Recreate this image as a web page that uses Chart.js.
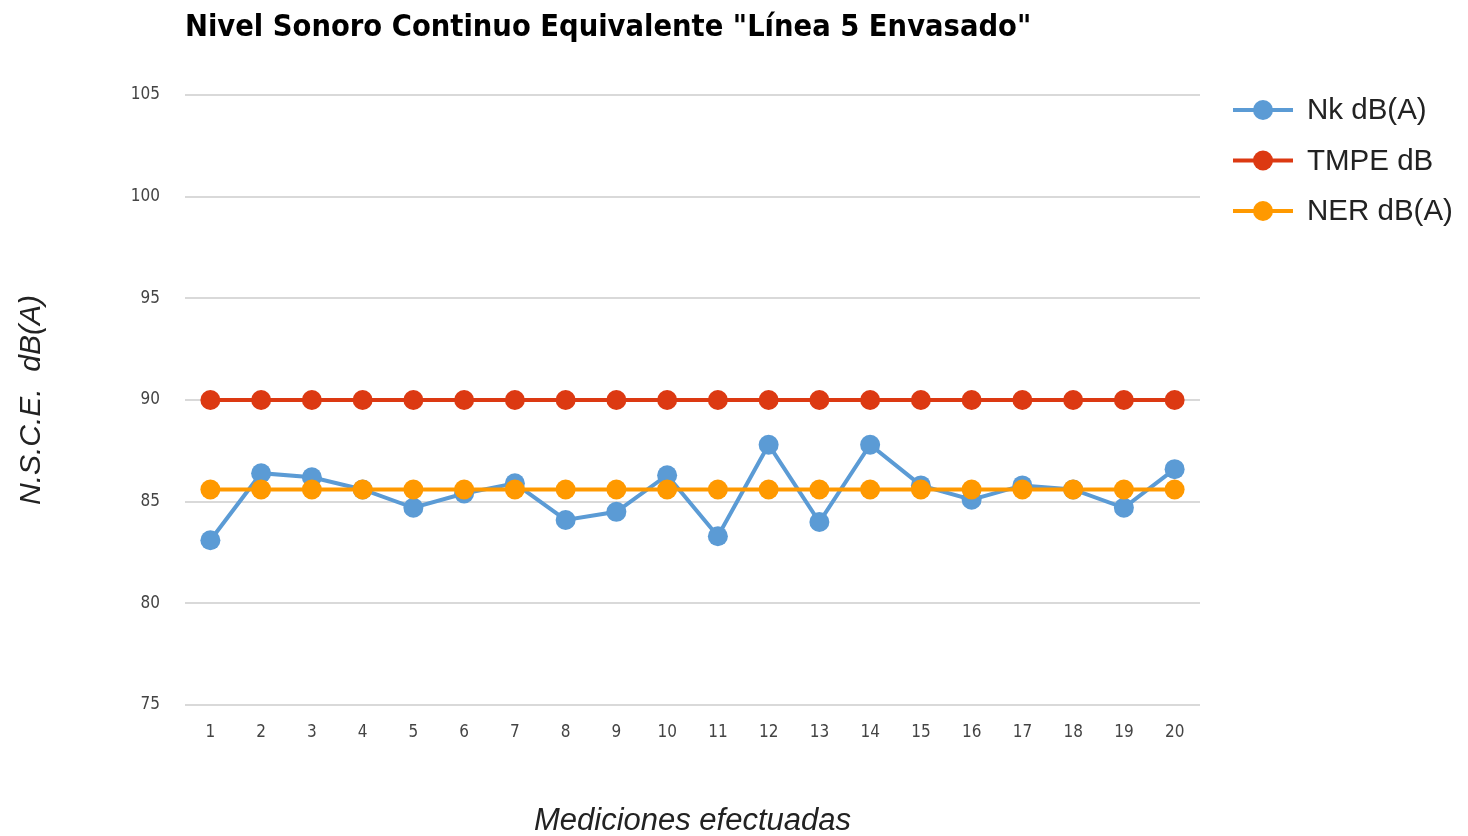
<!DOCTYPE html>
<html>
<head>
<meta charset="utf-8">
<script src="https://cdn.jsdelivr.net/npm/chart.js@4.4.1/dist/chart.umd.min.js"></script>
<style>
  html, body { margin: 0; padding: 0; background: #fff; }
</style>
</head>
<body>
<canvas id="myChart" width="1468" height="836"></canvas>
<script>
const chartTitle = 'Nivel Sonoro Continuo Equivalente "Línea 5 Envasado"';
const mediciones = ['1', '2', '3', '4', '5', '6', '7', '8', '9', '10',
                    '11', '12', '13', '14', '15', '16', '17', '18', '19', '20'];
const nk   = [83.1, 86.4, 86.2, 85.6, 84.7, 85.4, 85.9, 84.1, 84.5, 86.3,
              83.3, 87.8, 84.0, 87.8, 85.8, 85.1, 85.8, 85.6, 84.7, 86.6];
const tmpe = [90, 90, 90, 90, 90, 90, 90, 90, 90, 90,
              90, 90, 90, 90, 90, 90, 90, 90, 90, 90];
const ner  = [85.6, 85.6, 85.6, 85.6, 85.6, 85.6, 85.6, 85.6, 85.6, 85.6,
              85.6, 85.6, 85.6, 85.6, 85.6, 85.6, 85.6, 85.6, 85.6, 85.6];
const yTicks = [75, 80, 85, 90, 95, 100, 105];

const narrow = "'Liberation Sans Narrow', 'DejaVu Sans Condensed', sans-serif";
const regular = "'Liberation Sans', Arial, sans-serif";

// title + right-hand legend, drawn by hand
const extras = {
    id: 'extras',
    afterDraw(chart) {
        const ctx = chart.ctx;
        ctx.save();
        ctx.fillStyle = '#000';
        ctx.font = "bold 30.5px " + narrow;
        ctx.textBaseline = 'middle';
        ctx.textAlign = 'left';
        ctx.fillText(chartTitle, chart.chartArea.left, 28);

        ctx.font = "29.5px " + regular;
        chart.data.datasets.forEach((ds, i) => {
            const y = 110 + i * 50.5;
            ctx.strokeStyle = ds.borderColor;
            ctx.lineWidth = 4;
            ctx.beginPath();
            ctx.moveTo(1233, y);
            ctx.lineTo(1293, y);
            ctx.stroke();
            ctx.fillStyle = ds.backgroundColor;
            ctx.beginPath();
            ctx.arc(1263, y, 10, 0, Math.PI * 2);
            ctx.fill();
            ctx.fillStyle = '#222';
            ctx.fillText(ds.label, 1307, y + 1);
        });
        ctx.restore();
    }
};

const ctx = document.getElementById('myChart').getContext('2d');
const myChart = new Chart(ctx, {
    type: 'line',
    data: {
        labels: mediciones,
        datasets: [{
            label: 'Nk dB(A)',
            data: nk,
            borderColor: '#5b9bd5',
            backgroundColor: '#5b9bd5',
            order: 2
        }, {
            label: 'TMPE dB',
            data: tmpe,
            borderColor: '#dc3912',
            backgroundColor: '#dc3912',
            order: 1
        }, {
            label: 'NER dB(A)',
            data: ner,
            borderColor: '#ff9900',
            backgroundColor: '#ff9900',
            order: 0
        }]
    },
    options: {
        responsive: false,
        animation: false,
        events: [],
        layout: { padding: { top: 95, right: 268, bottom: 0, left: 0 } },
        elements: {
            line: { borderWidth: 4, tension: 0 },
            point: { radius: 10, borderWidth: 0, hoverRadius: 10 }
        },
        plugins: {
            legend: { display: false },
            tooltip: { enabled: false }
        },
        scales: {
            x: {
                offset: true,
                grid: { display: false, drawTicks: false, offset: true },
                border: { display: false },
                ticks: { color: '#444', font: { family: narrow, size: 17 }, padding: 17, maxRotation: 0 },
                title: {
                    display: true,
                    text: 'Mediciones efectuadas',
                    color: '#222',
                    font: { family: regular, size: 31, style: 'italic' },
                    padding: { top: 0, bottom: -4 }
                },
                afterFit(scale) { scale.height = 131; }
            },
            y: {
                min: 75,
                max: 105,
                afterBuildTicks(scale) { scale.ticks = yTicks.map(v => ({ value: v })); },
                grid: { color: '#d9d9d9', lineWidth: 2, drawTicks: false },
                border: { display: false },
                ticks: { color: '#444', font: { family: narrow, size: 17 }, padding: 25 },
                title: {
                    display: true,
                    text: 'N.S.C.E.  dB(A)',
                    color: '#222',
                    font: { family: regular, size: 30, style: 'italic' },
                    padding: { top: 14, bottom: 0 }
                },
                afterFit(scale) { scale.width = 185; }
            }
        }
    },
    plugins: [extras]
});
</script>
</body>
</html>
